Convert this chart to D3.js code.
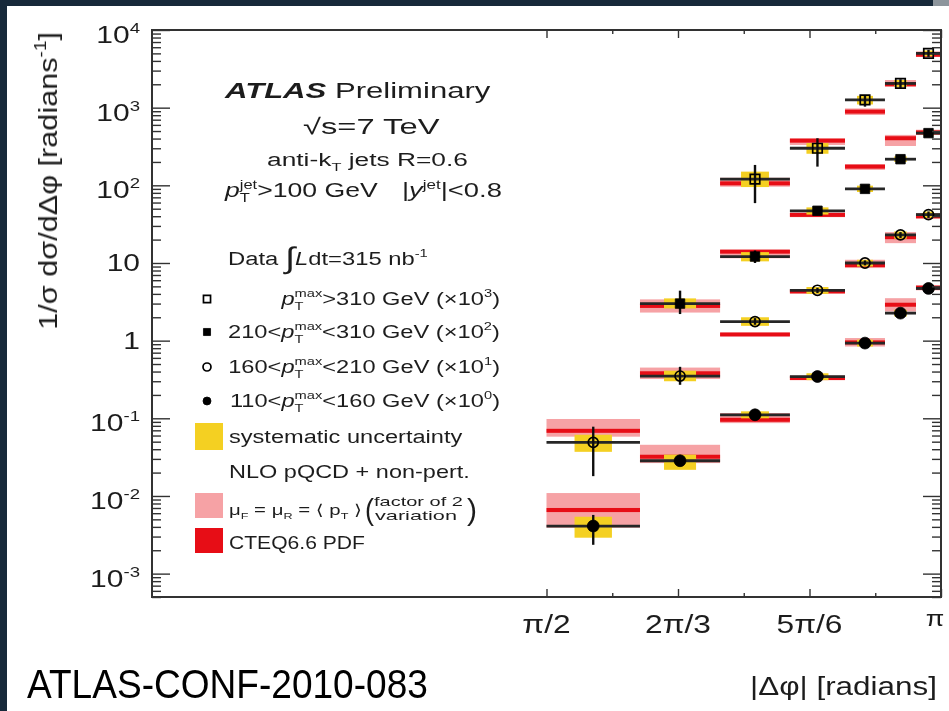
<!DOCTYPE html>
<html><head><meta charset="utf-8">
<script src="https://cdn.jsdelivr.net/npm/d3@7"></script>
<style>
html,body{margin:0;padding:0;background:#fff;}
svg{display:block;}
text{font-family:"Liberation Sans", Arial, "DejaVu Sans", sans-serif;}
</style></head><body>
<svg id="chart" width="949" height="711"></svg>
<script>
// ---- Δφ binning (radians) ----
const binEdges = [1.5708, 1.9430, 2.2620, 2.5400, 2.7593, 2.9185, 3.0420, 3.1416];

// ---- series: p_T^max ranges, each already multiplied by its legend factor ----
const seriesSymbols = ["squareOpen", "squareFilled", "circleOpen", "circleFilled"];

// measured 1/σ dσ/dΔφ per bin (rows: >310, 210-310, 160-210, 110-160 GeV)
const dataValues = [
  [null, null, 120, 300, 1260, 2050, 5000],
  [null, 3.0, 12.1, 47, 90, 217, 470],
  [0.049, 0.35, 1.76, 4.45, 10.0, 23, 42],
  [0.0041, 0.0284, 0.111, 0.345, 0.93, 2.26, 4.7]
];
// statistical uncertainty (lower / upper end)
const statLow = [
  [null, null, 59, 174, 1030, 1800, 4500],
  [null, 2.2, 10, 43, 84, 205, 445],
  [0.018, 0.27, 1.6, 4.1, 9.3, 21, 38],
  [0.00235, 0.026, 0.105, 0.33, 0.89, 2.15, 4.45]
];
const statHigh = [
  [null, null, 183, 404, 1456, 2320, 5550],
  [null, 4.4, 14.5, 51, 97, 230, 495],
  [0.078, 0.46, 1.95, 4.8, 10.8, 25, 46],
  [0.0057, 0.031, 0.118, 0.36, 0.97, 2.38, 4.95]
];
// systematic uncertainty band
const sysLow = [
  [null, null, 95, 255, 1100, 1850, 4600],
  [null, 2.6, 10.5, 42, 82, 200, 430],
  [0.037, 0.30, 1.55, 4.0, 9.0, 20.5, 38],
  [0.0029, 0.0217, 0.100, 0.31, 0.84, 2.05, 4.3]
];
const sysHigh = [
  [null, null, 150, 350, 1420, 2270, 5450],
  [null, 3.5, 13.8, 52, 99, 236, 515],
  [0.0614, 0.41, 2.0, 4.9, 11, 25.5, 46],
  [0.0054, 0.034, 0.123, 0.38, 1.03, 2.5, 5.2]
];
// NLO pQCD + non-perturbative prediction
const nloValues = [
  [null, null, 106, 376, 889, 2000, 4800],
  [null, 2.8, 14.0, 41.6, 174, 404, 480],
  [0.069, 0.38, 1.2, 4.3, 9.4, 21.5, 40],
  [0.0066, 0.032, 0.0957, 0.33, 0.95, 2.9, 4.8]
];
// renormalisation / factorisation scale variation (factor of 2)
const scaleLow = [
  [null, null, 96, 331, 805, 1860, 4500],
  [null, 2.3, 11.5, 38.9, 158, 321, 445],
  [0.058, 0.32, 1.15, 4.05, 8.6, 18, 37],
  [0.0039, 0.0265, 0.0867, 0.31, 0.84, 2.37, 4.45]
];
const scaleHigh = [
  [null, null, 125, 404, 978, 2270, 5300],
  [null, 3.4, 14.8, 44.6, 188, 446, 520],
  [0.098, 0.45, 1.27, 4.6, 11, 25, 44],
  [0.0109, 0.0456, 0.117, 0.355, 1.08, 3.52, 5.2]
];
// CTEQ6.6 PDF uncertainty
const pdfLow = [
  [null, null, 100, 355, 840, 1890, 4540],
  [null, 2.64, 13.2, 39.3, 164, 381, 454],
  [0.065, 0.36, 1.13, 4.06, 8.9, 20.3, 37.8],
  [0.0062, 0.0302, 0.0905, 0.312, 0.90, 2.74, 4.54]
];
const pdfHigh = [
  [null, null, 112, 398, 940, 2120, 5080],
  [null, 2.97, 14.8, 44.0, 184, 428, 508],
  [0.073, 0.40, 1.27, 4.55, 9.95, 22.8, 42.3],
  [0.0070, 0.0339, 0.101, 0.349, 1.0, 3.07, 5.08]
];

// ---- axis ticks ----
const yMajorTicks = [1e-3, 1e-2, 1e-1, 1, 10, 100, 1e3, 1e4];
const yTickLabels = [["10","-3"],["10","-2"],["10","-1"],["1",""],["10",""],["10","2"],["10","3"],["10","4"]];
const xMajorTicks = [Math.PI/2, 2*Math.PI/3, 5*Math.PI/6, Math.PI];
const xMinorTicks = [7*Math.PI/12, 3*Math.PI/4, 11*Math.PI/12];
const xTickLabels = ["π/2", "2π/3", "5π/6", "π"];

// ---- colours ----
const COL_SYS = "#f4d024", COL_SCALE = "#f6a2a5", COL_PDF = "#e70d14", COL_INK = "#1e1e1e";

const W = 949, H = 711;
const svg = d3.select("#chart");

// page frame
svg.append("rect").attr("width", W).attr("height", H).attr("fill", "#fff");
svg.append("rect").attr("x", 0).attr("y", 0).attr("width", 7).attr("height", H).attr("fill", "#17293a");
svg.append("rect").attr("x", 0).attr("y", 0).attr("width", W).attr("height", 6).attr("fill", "#17293a");
svg.append("rect").attr("x", 933).attr("y", 0).attr("width", 16).attr("height", 6).attr("fill", "#8d959c");

svg.append("defs").append("filter").attr("id", "soft")
  .attr("x", "-5%").attr("y", "-5%").attr("width", "110%").attr("height", "110%")
  .append("feGaussianBlur").attr("stdDeviation", 0.6);

const plot = svg.append("g").attr("filter", "url(#soft)");

const x = d3.scaleLinear().domain([0, Math.PI]).range([152, 941]);
const y = d3.scaleLog().domain([5e-4, 1e4]).range([597, 30]);

// ---- text helper: rich text with sub/superscripts, stretched to a target width ----
function richText(parent, o) {
  const g = parent.append("g").attr("transform", `translate(${o.x},${o.y})` + (o.rotate ? ` rotate(${o.rotate})` : ""));
  const inner = g.append("g");
  const t = inner.append("text").attr("font-size", o.size)
    .attr("text-anchor", o.anchor || "start").attr("fill", o.fill || COL_INK);
  let shift = 0, prev = null;
  o.parts.forEach(p => {
    const part = typeof p === "string" ? { t: p } : p;
    const ts = t.append("tspan").text(part.t);
    let target = 0, fs = o.size;
    if (part.sup) { target = -0.42 * o.size; fs = o.size * 0.62; }
    if (part.sub) { target = 0.27 * o.size; fs = o.size * 0.62; }
    if (part.rise !== undefined) target = part.rise;
    if (part.scale) fs = o.size * part.scale;
    ts.attr("font-size", fs);
    if (part.italic) ts.attr("font-style", "italic");
    if (part.bold) ts.attr("font-weight", "bold");
    if (target - shift !== 0) ts.attr("dy", target - shift);
    shift = target;
    if (part.back && prev) ts.attr("dx", -prev.node().getComputedTextLength());
    prev = ts;
  });
  let sx = o.sx || 1;
  if (o.width) sx = o.width / t.node().getBBox().width;
  inner.attr("transform", `scale(${sx},${o.sy || 1})`);
  return sx;
}

// ---- flatten the per-bin arrays into records ----
const points = [];
dataValues.forEach((row, s) => row.forEach((v, i) => {
  if (v === null) return;
  points.push({
    s, i, v,
    x0: binEdges[i], x1: binEdges[i + 1], xc: (binEdges[i] + binEdges[i + 1]) / 2,
    statLo: statLow[s][i], statHi: statHigh[s][i],
    sysLo: sysLow[s][i], sysHi: sysHigh[s][i],
    nlo: nloValues[s][i], scLo: scaleLow[s][i], scHi: scaleHigh[s][i],
    pdfLo: pdfLow[s][i], pdfHi: pdfHigh[s][i]
  });
}));

// NLO scale-variation band
plot.append("g").selectAll("rect").data(points).join("rect")
  .attr("x", d => x(d.x0)).attr("width", d => x(d.x1) - x(d.x0))
  .attr("y", d => y(d.scHi)).attr("height", d => y(d.scLo) - y(d.scHi))
  .attr("fill", COL_SCALE);
// PDF band
plot.append("g").selectAll("rect").data(points).join("rect")
  .attr("x", d => x(d.x0)).attr("width", d => x(d.x1) - x(d.x0))
  .attr("y", d => Math.min(y(d.pdfHi), y(d.nlo) - 2))
  .attr("height", d => Math.max(y(d.pdfLo) - y(d.pdfHi), 4))
  .attr("fill", COL_PDF);
// systematic uncertainty boxes
plot.append("g").selectAll("rect").data(points).join("rect")
  .attr("x", d => x(d.xc - 0.2 * (d.x1 - d.x0)))
  .attr("width", d => x(d.xc + 0.2 * (d.x1 - d.x0)) - x(d.xc - 0.2 * (d.x1 - d.x0)))
  .attr("y", d => y(d.sysHi)).attr("height", d => y(d.sysLo) - y(d.sysHi))
  .attr("fill", COL_SYS);
// data: horizontal bin-width line
plot.append("g").selectAll("line").data(points).join("line")
  .attr("x1", d => x(d.x0)).attr("x2", d => x(d.x1))
  .attr("y1", d => y(d.v)).attr("y2", d => y(d.v))
  .attr("stroke", "#262626").attr("stroke-width", 2.8);
// statistical error bars
plot.append("g").selectAll("line").data(points).join("line")
  .attr("x1", d => x(d.xc)).attr("x2", d => x(d.xc))
  .attr("y1", d => y(d.statHi)).attr("y2", d => y(d.statLo))
  .attr("stroke", "#111").attr("stroke-width", 2.4);

// markers
function markerPath(kind) {
  const isSquare = kind.startsWith("square");
  return d3.symbol().type(isSquare ? d3.symbolSquare : d3.symbolCircle)
    .size(isSquare ? 90 : (kind === "circleOpen" ? 80 : 110))();
}
function styleMarker(sel, kind, legend) {
  const open = kind.endsWith("Open");
  sel.attr("d", legend ? d3.symbol().type(kind.startsWith("square") ? d3.symbolSquare : d3.symbolCircle).size(50)() : markerPath(kind))
    .attr("fill", open ? "none" : "#000")
    .attr("stroke", "#000").attr("stroke-width", open ? 1.7 : 0.8);
}
const mk = plot.append("g").selectAll("path").data(points).join("path")
  .attr("transform", d => `translate(${x(d.xc)},${y(d.v)})`);
mk.each(function (d) { styleMarker(d3.select(this), seriesSymbols[d.s], false); });

// ---- axes ----
const yMinorTicks = [];
for (let k = -4; k <= 3; k++) for (let m = 2; m <= 9; m++) {
  const v = m * Math.pow(10, k);
  if (v >= 5e-4 && v <= 1e4) yMinorTicks.push(v);
}
function tickStyle(g) {
  g.select(".domain").remove();
  g.selectAll(".tick line").attr("stroke", "#333").attr("stroke-width", 1.4);
}
const axes = plot.append("g");
axes.append("g").attr("transform", "translate(152,0)").call(d3.axisLeft(y).tickValues(yMajorTicks).tickSize(-18).tickFormat("")).call(tickStyle);
axes.append("g").attr("transform", "translate(152,0)").call(d3.axisLeft(y).tickValues(yMinorTicks).tickSize(-9).tickFormat("")).call(tickStyle);
axes.append("g").attr("transform", "translate(941,0)").call(d3.axisRight(y).tickValues(yMajorTicks).tickSize(-18).tickFormat("")).call(tickStyle);
axes.append("g").attr("transform", "translate(941,0)").call(d3.axisRight(y).tickValues(yMinorTicks).tickSize(-9).tickFormat("")).call(tickStyle);
axes.append("g").attr("transform", "translate(0,597)").call(d3.axisBottom(x).tickValues(xMajorTicks).tickSize(-8).tickFormat("")).call(tickStyle);
axes.append("g").attr("transform", "translate(0,597)").call(d3.axisBottom(x).tickValues(xMinorTicks).tickSize(-4).tickFormat("")).call(tickStyle);
axes.append("g").attr("transform", "translate(0,30)").call(d3.axisTop(x).tickValues(xMajorTicks).tickSize(-8).tickFormat("")).call(tickStyle);
axes.append("g").attr("transform", "translate(0,30)").call(d3.axisTop(x).tickValues(xMinorTicks).tickSize(-4).tickFormat("")).call(tickStyle);
axes.append("rect").attr("x", 152).attr("y", 30).attr("width", 789).attr("height", 567)
  .attr("fill", "none").attr("stroke", "#333").attr("stroke-width", 2);

// y tick labels
yMajorTicks.forEach((v, k) => {
  const [base, exp] = yTickLabels[k];
  const parts = exp ? [base, { t: exp, sup: true }] : [base];
  richText(plot, { x: 140, y: y(v) + (exp ? 13 : 8.5), size: 24, anchor: "end", sx: 1.25, parts });
});
// x tick labels
xMajorTicks.forEach((v, k) => {
  const last = k === xMajorTicks.length - 1;
  richText(plot, { x: last ? 935 : x(v), y: last ? 626 : 633, size: last ? 22 : 26, anchor: "middle", sx: 1.22, parts: [xTickLabels[k]] });
});
// axis titles
richText(plot, { x: 750, y: 695, size: 26, width: 187, parts: ["|Δφ| [radians]"] });
richText(plot, { x: 57, y: 32, size: 26, rotate: -90, anchor: "end", width: 298,
  parts: ["1/σ dσ/dΔφ [radians", { t: "-1", sup: true }, "]"] });

// ---- header ----
richText(plot, { x: 225, y: 98, size: 22, width: 267,
  parts: [{ t: "ATLAS", bold: true, italic: true }, " Preliminary"] });
richText(plot, { x: 303, y: 134, size: 22, width: 137, parts: ["√s=7 TeV"] });
richText(plot, { x: 267, y: 166, size: 19, width: 201, parts: ["anti-k", { t: "T", sub: true }, " jets R=0.6"] });
richText(plot, { x: 225, y: 197, size: 20, width: 155,
  parts: [{ t: "p", italic: true }, { t: "T", sub: true }, { t: "jet", sup: true, back: true }, ">100 GeV"] });
richText(plot, { x: 402, y: 197, size: 20, width: 100,
  parts: ["|", { t: "y", italic: true }, { t: "jet", sup: true }, "|<0.8"] });

// ---- legend ----
richText(plot, { x: 228, y: 265, size: 19, width: 200,
  parts: ["Data ", { t: "∫", scale: 1.55, rise: 3 }, { t: "L", italic: true, rise: 0 }, "dt=315 nb", { t: "-1", sup: true }] });

const legendRows = [
  { sym: seriesSymbols[0], lower: "", upper: ">310 GeV (×10", exp: "3" },
  { sym: seriesSymbols[1], lower: "210<", upper: "<310 GeV (×10", exp: "2" },
  { sym: seriesSymbols[2], lower: "160<", upper: "<210 GeV (×10", exp: "1" },
  { sym: seriesSymbols[3], lower: "110<", upper: "<160 GeV (×10", exp: "0" }
];
const rowY = [305, 338, 373, 407];
let rowSx = null;
[1, 2, 3, 0].forEach(r => {
  const row = legendRows[r];
  const parts = [row.lower, { t: "p", italic: true }, { t: "T", sub: true }, { t: "max", sup: true, back: true },
    row.upper, { t: row.exp, sup: true }, ")"].filter(p => p !== "");
  const s = richText(plot, rowSx === null
    ? { x: 228, y: rowY[r], size: 19, width: 272, parts }
    : { x: 500, y: rowY[r], size: 19, anchor: "end", sx: rowSx, parts });
  if (rowSx === null) rowSx = s;
  styleMarker(plot.append("path").attr("transform", `translate(207,${rowY[r] - 6})`), row.sym, true);
});

plot.append("rect").attr("x", 195).attr("y", 423).attr("width", 28).attr("height", 27).attr("fill", COL_SYS);
richText(plot, { x: 229, y: 443, size: 19, width: 234, parts: ["systematic uncertainty"] });
richText(plot, { x: 229, y: 478, size: 19, width: 241, parts: ["NLO pQCD + non-pert."] });
plot.append("rect").attr("x", 195).attr("y", 493).attr("width", 28).attr("height", 25).attr("fill", COL_SCALE);
richText(plot, { x: 229, y: 515, size: 15, width: 133,
  parts: ["μ", { t: "F", sub: true }, " = μ", { t: "R", sub: true }, " = ⟨ ", { t: "p" }, { t: "T", sub: true }, " ⟩"] });
richText(plot, { x: 365, y: 520, size: 30, width: 9, parts: ["("] });
richText(plot, { x: 374, y: 506, size: 13, width: 89, parts: ["factor of 2"] });
richText(plot, { x: 375, y: 520, size: 13, width: 82, parts: ["variation"] });
richText(plot, { x: 467, y: 520, size: 30, width: 10, parts: [")"] });
plot.append("rect").attr("x", 195).attr("y", 528).attr("width", 28).attr("height", 25).attr("fill", COL_PDF);
richText(plot, { x: 229, y: 549, size: 19, width: 136, parts: ["CTEQ6.6 PDF"] });

// ---- document reference ----
richText(svg, { x: 27, y: 698, size: 40, width: 401, fill: "#000", parts: ["ATLAS-CONF-2010-083"] });
</script>
</body></html>
